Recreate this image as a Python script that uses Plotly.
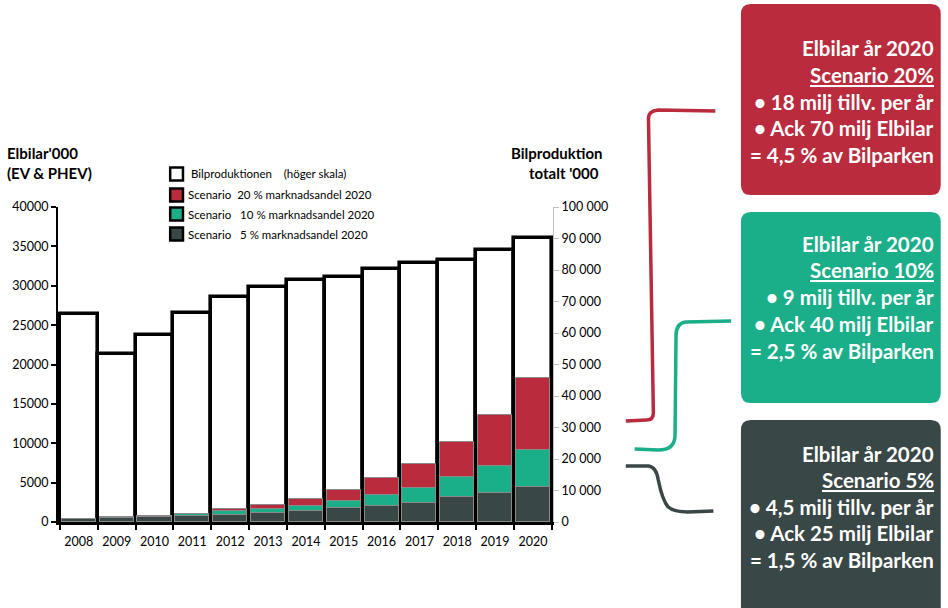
import plotly.graph_objects as go

years = ["2008", "2009", "2010", "2011", "2012", "2013", "2014",
         "2015", "2016", "2017", "2018", "2019", "2020"]
bilproduktion = [66000, 53300, 59400, 66300, 71400, 74600, 76800,
                 77800, 80300, 82200, 83200, 86300, 90200]
scen20 = [420, 620, 800, 1080, 1700, 2210, 2970, 4080, 5560, 7380, 10100, 13620, 18290]
scen10 = [400, 600, 740, 960, 1360, 1610, 2080, 2720, 3440, 4330, 5730, 7170, 9200]
scen5 = [380, 550, 640, 760, 930, 1150, 1440, 1780, 2080, 2460, 3140, 3730, 4490]

left_ticks = [0, 5000, 10000, 15000, 20000, 25000, 30000, 35000, 40000]
right_ticks = [0, 10000, 20000, 30000, 40000, 50000, 60000, 70000, 80000, 90000, 100000]

RED = "#B92B3D"
GREEN = "#1AAE89"
DARK = "#3A4747"
FONT = "Lato"

W, H = 948, 608
PX0, PX1, PY0, PY1 = 50, 553, 207, 522


def fx(px):
    return (px - PX0) / (PX1 - PX0)


def fy(py):
    return (PY1 - py) / (PY1 - PY0)


fig = go.Figure()
fig.add_trace(go.Bar(x=years, y=bilproduktion, yaxis="y", width=1.0,
                     marker=dict(color="white", line=dict(color="black", width=3.6)),
                     showlegend=False, name="Bilproduktionen"))
for vals, col, nm in [(scen20, RED, "20%"), (scen10, GREEN, "10%"), (scen5, DARK, "5%")]:
    fig.add_trace(go.Bar(x=years, y=vals, yaxis="y2", width=0.9,
                         marker=dict(color=col, line=dict(color="#8a8a8a", width=1)),
                         showlegend=False, name=nm))

shapes = []
annotations = []

# legend
leg_items = [("white", 174, "Bilproduktionen\u00a0\u00a0\u00a0\u00a0(höger skala)", 183),
             (RED, 195, "Scenario\u00a0\u00a020\u00a0%\u00a0marknadsandel\u00a02020", 180),
             (GREEN, 214, "Scenario\u00a0\u00a0\u00a010\u00a0%\u00a0marknadsandel\u00a02020", 180),
             (DARK, 234, "Scenario\u00a0\u00a0\u00a05\u00a0%\u00a0marknadsandel\u00a02020", 180)]
for col, cy, txt, tx in leg_items:
    shapes.append(dict(type="rect", xref="paper", yref="paper",
                       x0=fx(164), x1=fx(177), y0=fy(cy + 6.5), y1=fy(cy - 6.5),
                       fillcolor=col, line=dict(color="black", width=2.5)))
    annotations.append(dict(xref="paper", yref="paper", x=fx(tx), y=fy(cy), text=txt,
                            showarrow=False, xanchor="left", yanchor="middle",
                            font=dict(family=FONT, size=11.5, color="black")))

# axis titles
for txt, px, py, anc in [("<b>Elbilar'000</b>", -4, 153, "left"),
                         ("<b>(EV & PHEV)</b>", -4, 173, "left"),
                         ("<b>Bilproduktion</b>", 606, 153, "right"),
                         ("<b>totalt '000</b>", 602, 173, "right")]:
    annotations.append(dict(xref="paper", yref="paper", x=fx(px), y=fy(py), text=txt,
                            showarrow=False, xanchor=anc, yanchor="middle",
                            font=dict(family=FONT, size=15, color="black")))


# boxes
def rounded_box(x0, y0, x1, y1, r):
    pts = (f"M {fx(x0 + r)},{fy(y0)} L {fx(x1 - r)},{fy(y0)} "
           f"Q {fx(x1)},{fy(y0)} {fx(x1)},{fy(y0 + r)} L {fx(x1)},{fy(y1 - r)} "
           f"Q {fx(x1)},{fy(y1)} {fx(x1 - r)},{fy(y1)} L {fx(x0 + r)},{fy(y1)} "
           f"Q {fx(x0)},{fy(y1)} {fx(x0)},{fy(y1 - r)} L {fx(x0)},{fy(y0 + r)} "
           f"Q {fx(x0)},{fy(y0)} {fx(x0 + r)},{fy(y0)} Z")
    return pts


boxes = [
    (RED, 4, 195, ["Elbilar år 2020", "<u>Scenario 20%</u>", "• 18 milj tillv. per år",
                   "• Ack 70 milj Elbilar", "= 4,5 % av Bilparken"], [48, 75, 102, 128, 155]),
    (GREEN, 212, 403, ["Elbilar år 2020", "<u>Scenario 10%</u>", "• 9 milj tillv. per år",
                       "• Ack 40 milj Elbilar", "= 2,5 % av Bilparken"], [244, 270, 297, 324, 351]),
    (DARK, 420, 625, ["Elbilar år 2020", "<u>Scenario 5%</u>", "• 4,5 milj tillv. per år",
                      "• Ack 25 milj Elbilar", "= 1,5 % av Bilparken"], [454, 480, 507, 533, 560]),
]
for col, y0, y1, lines, ys in boxes:
    shapes.append(dict(type="path", xref="paper", yref="paper",
                       path=rounded_box(744, y0, 947, y1, 10),
                       fillcolor=col, line=dict(width=0), layer="above"))
    for txt, py in zip(lines, ys):
        annotations.append(dict(xref="paper", yref="paper", x=fx(942), y=fy(py),
                                text="<b>" + txt + "</b>", showarrow=False,
                                xanchor="right", yanchor="middle",
                                font=dict(family=FONT, size=20.5, color="white")))

red_brace = (f"M {fx(718)},{fy(111)} L {fx(660)},{fy(110)} Q {fx(650)},{fy(111)} {fx(650)},{fy(118)} "
             f"L {fx(655)},{fy(413)} Q {fx(655)},{fy(420)} {fx(648)},{fy(420)} L {fx(627)},{fy(421)}")
green_brace = (f"M {fx(734)},{fy(321)} L {fx(688)},{fy(322)} Q {fx(678)},{fy(323)} {fx(678)},{fy(336)} "
               f"L {fx(677)},{fy(435)} Q {fx(677)},{fy(450)} {fx(660)},{fy(450)} L {fx(636)},{fy(449)}")
dark_brace = (f"M {fx(627)},{fy(466)} L {fx(650)},{fy(466)} Q {fx(658)},{fy(467)} {fx(660)},{fy(480)} "
              f"Q {fx(664)},{fy(500)} {fx(670)},{fy(507)} Q {fx(676)},{fy(512)} {fx(690)},{fy(512)} "
              f"L {fx(716)},{fy(511)}")
for pp, col in [(red_brace, RED), (green_brace, GREEN), (dark_brace, DARK)]:
    shapes.append(dict(type="path", xref="paper", yref="paper", path=pp,
                       line=dict(color=col, width=3.5)))

fig.update_layout(
    width=W, height=H,
    margin=dict(l=PX0, r=W - PX1, t=PY0, b=H - PY1),
    paper_bgcolor="white", plot_bgcolor="white",
    barmode="overlay", bargap=0,
    separators=", ",
    font=dict(family=FONT, size=12, color="black"),
    xaxis=dict(type="category", range=[-0.55, 12.53], showgrid=False,
               showline=True, linecolor="black", linewidth=3,
               ticks="outside", tickson="boundaries", ticklen=5, tickwidth=2,
               tickcolor="black", ticklabelstandoff=6, tickangle=0,
               tickfont=dict(family=FONT, size=12.5)),
    yaxis=dict(side="right", range=[0, 100000], tickvals=right_ticks, tickformat=",d",
               showgrid=False, zeroline=False, showline=True, linecolor="#c0c0c0", linewidth=1,
               ticks="outside", ticklen=5, tickcolor="#c0c0c0",
               tickfont=dict(family=FONT, size=12.5)),
    yaxis2=dict(side="left", overlaying="y", range=[0, 40000], tickvals=left_ticks, tickformat="d",
                showgrid=False, zeroline=False, showline=True, linecolor="black", linewidth=2,
                ticks="outside", ticklen=5, tickwidth=2, tickcolor="black",
                tickfont=dict(family=FONT, size=12.5)),
    shapes=shapes, annotations=annotations,
)

fig.write_html("out.html")
